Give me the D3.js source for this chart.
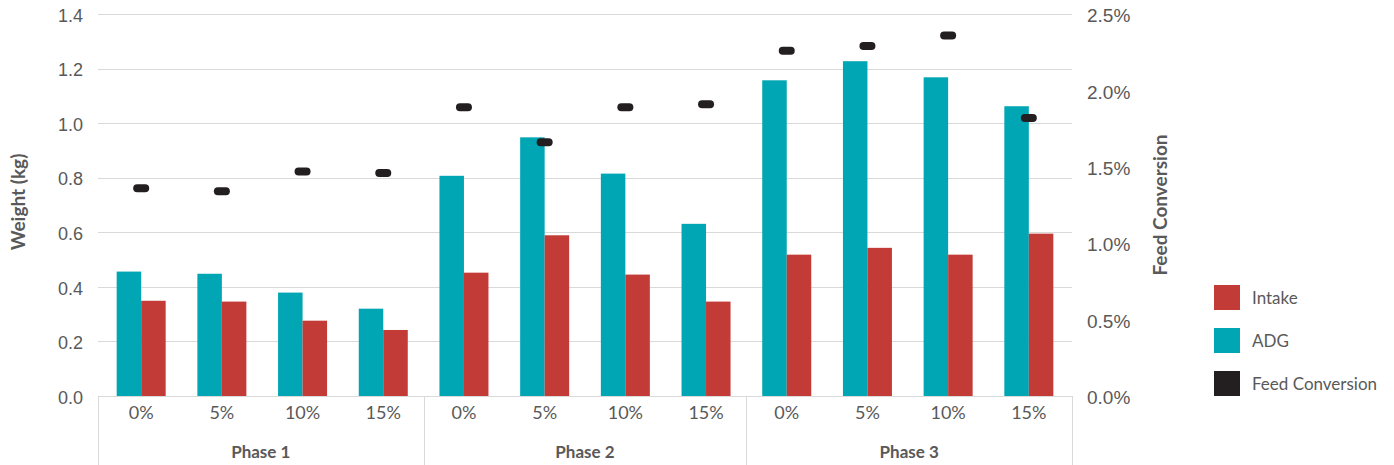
<!DOCTYPE html>
<html>
<head>
<meta charset="utf-8">
<script src="https://cdn.jsdelivr.net/npm/d3@7/dist/d3.min.js"></script>
<style>
  html, body { margin: 0; padding: 0; background: #fff; }
  svg { display: block; font-family: Lato, "Open Sans", sans-serif; }
</style>
</head>
<body>
<svg id="chart" width="1394" height="465"></svg>
<script>
// Supplement level per phase
const phases = ["Phase 1", "Phase 2", "Phase 3"];
const levels = ["0%", "5%", "10%", "15%"];

// Average daily gain and intake (kg), in phase/level order
const adg    = [0.456, 0.448, 0.379, 0.320, 0.807, 0.948, 0.815, 0.631, 1.157, 1.227, 1.168, 1.062];
const intake = [0.349, 0.346, 0.276, 0.242, 0.452, 0.589, 0.445, 0.346, 0.518, 0.543, 0.518, 0.595];
// Feed conversion (%)
const feedConv = [1.36, 1.34, 1.47, 1.46, 1.89, 1.66, 1.89, 1.91, 2.26, 2.29, 2.36, 1.82];

const weightTicks = [0, 0.2, 0.4, 0.6, 0.8, 1.0, 1.2, 1.4];
const fcTicks = [0, 0.5, 1.0, 1.5, 2.0, 2.5];

const legendItems = [
  { name: "Intake", color: "#c23b37" },
  { name: "ADG", color: "#00a6b4" },
  { name: "Feed Conversion", color: "#231f20" }
];

const plotLeft = 98, plotRight = 1072, plotTop = 14, plotBottom = 396;
const textColor = "#595959", gridColor = "#d9d9d9";

const cats = [];
phases.forEach(p => levels.forEach(l => cats.push({ phase: p, level: l, key: p + "|" + l })));
cats.forEach((c, i) => { c.adg = adg[i]; c.intake = intake[i]; c.fc = feedConv[i]; });

const svg = d3.select("#chart");

const x = d3.scaleBand().domain(cats.map(c => c.key)).range([plotLeft, plotRight]).paddingOuter(0.035).paddingInner(0);
const sub = d3.scaleBand().domain(["adg", "intake"]).range([0, 49]);
const y = d3.scaleLinear().domain([0, 1.4]).range([plotBottom, plotTop]);
const y2 = d3.scaleLinear().domain([0, 2.5]).range([plotBottom, plotTop]);

// horizontal gridlines
svg.append("g").selectAll("line").data(weightTicks.slice(1)).join("line")
  .attr("x1", plotLeft).attr("x2", plotRight)
  .attr("y1", d => Math.round(y(d)) + 0.5).attr("y2", d => Math.round(y(d)) + 0.5)
  .attr("stroke", gridColor).attr("stroke-width", 1);

// left axis labels
const yAxis = d3.axisLeft(y).tickValues(weightTicks).tickFormat(d3.format(".1f")).tickSize(0).tickPadding(15);
const gy = svg.append("g").attr("transform", `translate(${plotLeft},0)`).call(yAxis);
gy.select(".domain").remove();
gy.selectAll("text").attr("fill", textColor).attr("font-size", 18).attr("dy", "0.4em");

// right axis labels
const y2Axis = d3.axisRight(y2).tickValues(fcTicks).tickFormat(d => d3.format(".1f")(d) + "%").tickSize(0).tickPadding(15);
const gy2 = svg.append("g").attr("transform", `translate(${plotRight},0)`).call(y2Axis);
gy2.select(".domain").remove();
gy2.selectAll("text").attr("fill", textColor).attr("font-size", 19).attr("dy", "0.4em");

// bars
const groups = svg.append("g").selectAll("g").data(cats).join("g")
  .attr("transform", d => `translate(${x(d.key) + x.bandwidth() / 2 - 24.5},0)`);
groups.append("rect")
  .attr("x", sub("adg")).attr("width", sub.bandwidth())
  .attr("y", d => y(d.adg)).attr("height", d => y(0) - y(d.adg))
  .attr("fill", legendItems[1].color);
groups.append("rect")
  .attr("x", sub("intake")).attr("width", sub.bandwidth())
  .attr("y", d => y(d.intake)).attr("height", d => y(0) - y(d.intake))
  .attr("fill", legendItems[0].color);

// feed conversion markers
svg.append("g").selectAll("rect").data(cats).join("rect")
  .attr("x", d => x(d.key) + x.bandwidth() / 2 - 8)
  .attr("y", d => y2(d.fc) - 4)
  .attr("width", 16).attr("height", 8).attr("rx", 4)
  .attr("fill", legendItems[2].color);

// category axis: baseline and separators
svg.append("line").attr("x1", plotLeft).attr("x2", plotRight).attr("y1", plotBottom + 0.5).attr("y2", plotBottom + 0.5)
  .attr("stroke", gridColor);
const phaseEdges = [plotLeft].concat(phases.map((p, i) => {
  const lastKey = p + "|" + levels[levels.length - 1];
  return i === phases.length - 1 ? plotRight : x(lastKey) + x.bandwidth();
}));
svg.append("g").selectAll("line").data(phaseEdges).join("line")
  .attr("x1", d => Math.round(d) + 0.5).attr("x2", d => Math.round(d) + 0.5)
  .attr("y1", plotBottom).attr("y2", 465)
  .attr("stroke", gridColor);

// level labels
svg.append("g").selectAll("text").data(cats).join("text")
  .attr("x", d => x(d.key) + x.bandwidth() / 2)
  .attr("y", 419)
  .attr("text-anchor", "middle").attr("font-size", 18).attr("fill", textColor)
  .text(d => d.level);

// phase labels
svg.append("g").selectAll("text").data(phases).join("text")
  .attr("x", (d, i) => (phaseEdges[i] + phaseEdges[i + 1]) / 2)
  .attr("y", 458)
  .attr("text-anchor", "middle").attr("font-size", 17).attr("font-weight", "bold").attr("fill", textColor)
  .text(d => d);

// axis titles
svg.append("text").attr("transform", "translate(25,202) rotate(-90)")
  .attr("text-anchor", "middle").attr("font-size", 19).attr("font-weight", "bold").attr("fill", textColor)
  .text("Weight (kg)");
svg.append("text").attr("transform", "translate(1167,205) rotate(-90)")
  .attr("text-anchor", "middle").attr("font-size", 19).attr("font-weight", "bold").attr("fill", textColor)
  .text("Feed Conversion");

// legend
const lg = svg.append("g").selectAll("g").data(legendItems).join("g")
  .attr("transform", (d, i) => `translate(1214,${285 + i * 43})`);
lg.append("rect").attr("width", 26).attr("height", 25).attr("fill", d => d.color);
lg.append("text").attr("x", 38).attr("y", 13).attr("dy", "0.35em")
  .attr("font-size", 17).attr("fill", textColor).text(d => d.name);
</script>
</body>
</html>
